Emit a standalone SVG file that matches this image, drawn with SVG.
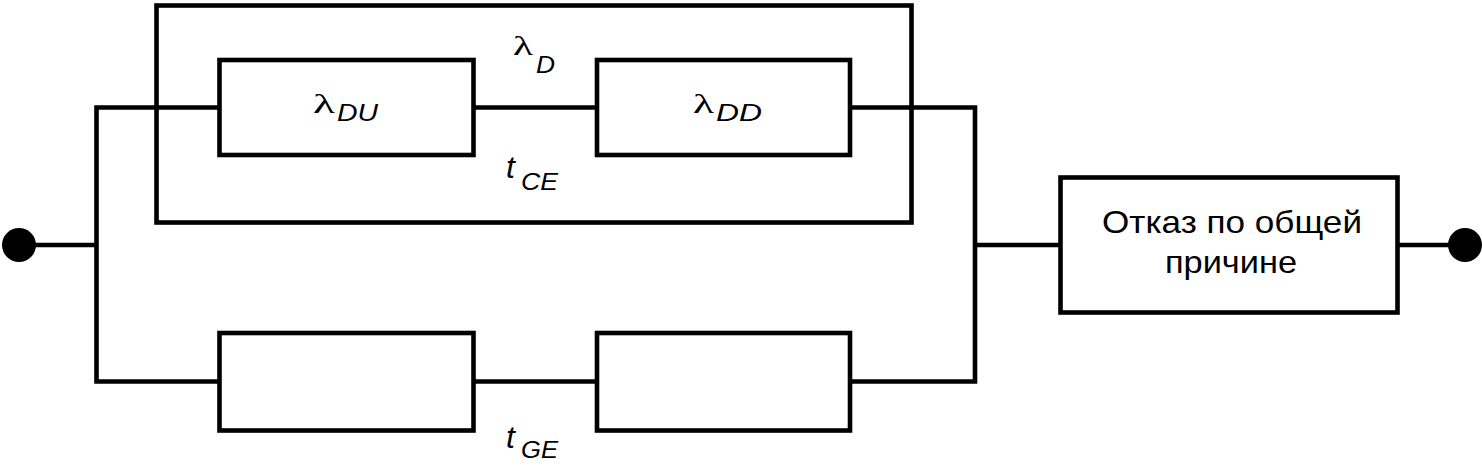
<svg xmlns="http://www.w3.org/2000/svg" width="1482" height="470" viewBox="0 0 1482 470">
<style>
.b{fill:none;stroke:#000;stroke-width:4.6}
.w{fill:none;stroke:#000;stroke-width:4.6;stroke-linejoin:miter}
.l{font-family:"Liberation Serif","Times New Roman",serif;font-size:28px;fill:#000}
.s{font-family:"Liberation Sans",Arial,sans-serif;font-size:23px;font-style:italic;fill:#000}
.t{font-family:"Liberation Sans",Arial,sans-serif;font-size:32px;font-style:italic;fill:#000}
.c{font-family:"Liberation Sans",Arial,sans-serif;font-size:30.5px;fill:#000}
</style>
<rect width="1482" height="470" fill="#fff"/>
<g id="connectors">
<path class="w" d="M219 107.5H96.5V381.5H219"/>
<path class="w" d="M474 107.5H597"/>
<path class="w" d="M850 107.5H975V381.5H850"/>
<path class="w" d="M474 381.5H597"/>
<path class="w" d="M19 245H96.5"/>
<path class="w" d="M975 245H1060.5"/>
<path class="w" d="M1397.5 245H1465"/>
</g>
<g id="group-ce">
<rect class="b" x="156.5" y="5.5" width="755" height="217"/>
<text class="l" x="513" y="55" textLength="20" lengthAdjust="spacingAndGlyphs">λ</text>
<text class="s" x="536" y="73" textLength="19" lengthAdjust="spacingAndGlyphs">D</text>
<text class="t" x="506" y="178">t</text>
<text class="s" x="521" y="190" textLength="37" lengthAdjust="spacingAndGlyphs">CE</text>
</g>
<g id="node-du">
<rect class="b" x="219.5" y="60" width="254" height="95"/>
<text class="l" x="313" y="113" textLength="22" lengthAdjust="spacingAndGlyphs">λ</text>
<text class="s" x="337" y="121" textLength="41" lengthAdjust="spacingAndGlyphs">DU</text>
</g>
<g id="node-dd">
<rect class="b" x="597" y="60" width="253" height="95"/>
<text class="l" x="693" y="113" textLength="21" lengthAdjust="spacingAndGlyphs">λ</text>
<text class="s" x="716" y="121" textLength="46" lengthAdjust="spacingAndGlyphs">DD</text>
</g>
<g id="node-g1">
<rect class="b" x="219.5" y="333" width="254" height="97.5"/>
</g>
<g id="node-g2">
<rect class="b" x="597" y="333" width="253" height="97.5"/>
</g>
<g id="label-ge">
<text class="t" x="506" y="448">t</text>
<text class="s" x="521" y="458" textLength="37" lengthAdjust="spacingAndGlyphs">GE</text>
</g>
<g id="node-ccf">
<rect class="b" x="1060.5" y="177.5" width="337" height="135"/>
<text class="c" x="1102" y="233" textLength="260" lengthAdjust="spacingAndGlyphs">Отказ по общей</text>
<text class="c" x="1165" y="273" textLength="132" lengthAdjust="spacingAndGlyphs">причине</text>
</g>
<g id="terminal-in"><circle cx="19" cy="245" r="17" fill="#000"/></g>
<g id="terminal-out"><circle cx="1465" cy="245" r="17" fill="#000"/></g>
</svg>
